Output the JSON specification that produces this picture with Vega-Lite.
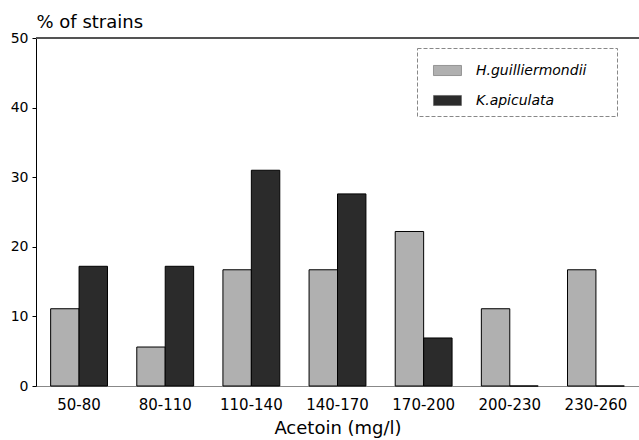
{
  "$schema": "https://vega.github.io/schema/vega-lite/v6.json",
  "autosize": "none",
  "padding": {"left": 36, "top": 38, "right": 0, "bottom": 54},
  "width": 603,
  "height": 348,
  "background": "white",
  "config": {
    "view": {"stroke": null},
    "font": "DejaVu Sans",
    "axis": {"grid": false, "labelColor": "black", "titleColor": "black", "labelFont": "DejaVu Sans", "titleFont": "DejaVu Sans", "titleFontWeight": "normal"},
    "legend": {"labelFont": "DejaVu Sans"}
  },
  "data": {
    "values": [
      {"range": "50-80", "species": "H.guilliermondii", "pct": 11.1},
      {"range": "50-80", "species": "K.apiculata", "pct": 17.2},
      {"range": "80-110", "species": "H.guilliermondii", "pct": 5.6},
      {"range": "80-110", "species": "K.apiculata", "pct": 17.2},
      {"range": "110-140", "species": "H.guilliermondii", "pct": 16.7},
      {"range": "110-140", "species": "K.apiculata", "pct": 31.0},
      {"range": "140-170", "species": "H.guilliermondii", "pct": 16.7},
      {"range": "140-170", "species": "K.apiculata", "pct": 27.6},
      {"range": "170-200", "species": "H.guilliermondii", "pct": 22.2},
      {"range": "170-200", "species": "K.apiculata", "pct": 6.9},
      {"range": "200-230", "species": "H.guilliermondii", "pct": 11.1},
      {"range": "200-230", "species": "K.apiculata", "pct": 0},
      {"range": "230-260", "species": "H.guilliermondii", "pct": 16.7},
      {"range": "230-260", "species": "K.apiculata", "pct": 0}
    ]
  },
  "layer": [
    {
      "mark": {"type": "bar", "stroke": "black", "strokeWidth": 1},
      "encoding": {
        "x": {
          "field": "range", "type": "nominal", "sort": null,
          "scale": {"paddingInner": 0.34, "paddingOuter": 0.17},
          "axis": {
            "title": "Acetoin (mg/l)", "titleFontSize": 18, "titlePadding": 7,
            "labelAngle": 0, "labelFontSize": 15, "labelPadding": 11,
            "ticks": false, "domainColor": "#888888", "domainWidth": 1.2
          }
        },
        "xOffset": {"field": "species", "type": "nominal", "scale": {"paddingInner": 0, "paddingOuter": 0}},
        "y": {
          "field": "pct", "type": "quantitative",
          "scale": {"domain": [0, 50], "nice": false},
          "axis": {
            "values": [0, 10, 20, 30, 40, 50],
            "title": "% of strains", "titleAngle": 0, "titleFontSize": 18,
            "titleX": 0, "titleY": -11, "titleAlign": "left", "titleBaseline": "alphabetic",
            "labelFontSize": 14, "labelPadding": 4, "tickSize": 4, "tickColor": "black",
            "domainColor": "black", "domainWidth": 1
          }
        },
        "color": {
          "field": "species", "type": "nominal",
          "scale": {"domain": ["H.guilliermondii", "K.apiculata"], "range": ["#b0b0b0", "#2b2b2b"]},
          "legend": {
            "title": " ", "titleOrient": "right", "titlePadding": 23, "titleFontSize": 14,
            "orient": "none", "legendX": 381, "legendY": 10,
            "labelFontSize": 14, "labelFontStyle": "italic", "labelColor": "black",
            "symbolType": "M-0.43,-0.36L1.57,-0.36L1.57,0.36L-0.43,0.36Z",
            "symbolSize": 784, "symbolStrokeColor": "#555", "symbolStrokeWidth": 0.5, "symbolOpacity": 1,
            "rowPadding": 8, "labelOffset": 22,
            "padding": 8, "strokeColor": "#888888",
            "encode": {"legend": {"update": {"strokeDash": {"value": [4, 2]}}}}
          }
        }
      }
    },
    {
      "mark": {"type": "rule", "color": "#555555", "strokeWidth": 1},
      "encoding": {"y": {"datum": 50}}
    }
  ]
}
